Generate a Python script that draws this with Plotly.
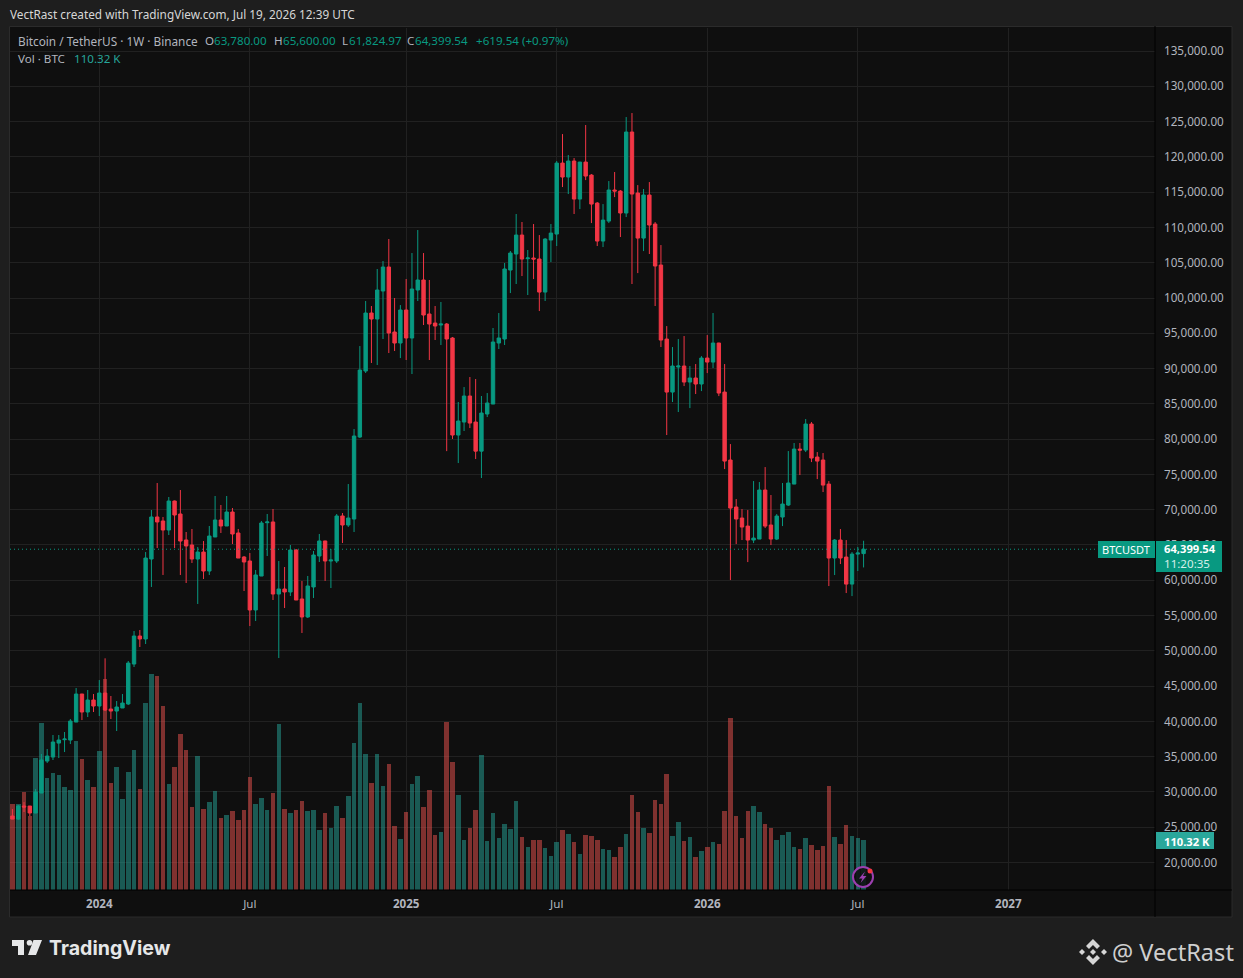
import pandas as pd
import plotly.graph_objects as go

W, H = 1243, 978
# pane edges in page pixels
PANE_L, PANE_R, PANE_T, PANE_B = 10, 1155, 28, 890

UP = "#089981"
DOWN = "#f23645"
VOL_UP = "rgba(38,166,154,0.5)"
VOL_DOWN = "rgba(239,83,80,0.5)"
TEXT = "#b2b5be"
FONT = "Noto Sans"

# weekly candles, prices in thousands of USDT
first_week = "2023-09-18"
opens = [26.59,26.16,28.01,28.01,27.02,29.85,34.38,34.95,36.93,37.41,
37.36,39.91,43.88,41.33,43.03,42.18,44.02,41.75,41.47,41.90,
42.47,48.13,52.10,51.68,63.01,68.97,68.40,67.12,71.23,69.39,
65.71,65.00,63.01,64.00,61.31,66.13,68.54,67.69,69.67,66.70,
63.30,62.73,55.79,60.60,68.16,68.26,58.05,58.76,58.34,64.29,
57.35,54.80,59.05,63.44,65.57,62.73,62.73,69.11,67.83,68.68,
80.30,89.65,97.87,97.02,100.99,104.39,95.18,93.62,98.30,94.33,
101.13,102.55,97.73,96.45,96.17,96.31,94.33,80.58,82.42,86.11,
82.42,78.30,83.56,84.97,93.62,94.19,103.96,106.23,108.92,105.57,
105.66,105.52,100.84,108.21,109.06,119.12,117.14,119.41,114.02,119.26,
117.42,113.45,108.07,110.90,115.30,115.15,112.04,123.52,114.87,108.49,
114.59,110.48,104.67,94.18,86.67,90.22,90.36,88.09,88.66,87.81,
91.49,90.92,93.62,86.67,77.04,70.38,68.82,67.68,65.70,65.84,
72.79,67.83,65.84,68.96,70.66,73.63,78.59,78.45,82.14,77.46,
77.04,73.63,63.15,65.70,63.29,59.46,63.71,63.78]
highs = [27.58,28.15,28.57,28.01,30.42,35.38,36.09,38.07,38.07,38.50,
40.34,44.73,43.90,44.45,43.88,45.86,48.94,43.60,42.89,43.88,
48.56,52.81,52.95,64.00,69.96,73.78,68.97,71.80,71.30,72.79,
66.84,67.27,64.71,65.56,67.69,71.94,70.67,71.94,70.24,67.27,
63.44,63.86,61.46,68.40,69.39,70.10,62.73,61.88,65.00,64.43,
59.90,60.61,64.15,66.56,65.60,64.43,69.39,69.53,73.64,81.43,
93.19,99.57,98.86,104.11,105.24,108.36,100.00,99.00,102.69,106.37,
109.63,106.37,102.55,98.86,99.43,96.45,94.47,85.26,87.38,88.80,
88.52,86.11,86.53,95.75,97.87,104.96,106.66,111.90,110.77,106.80,
110.48,108.92,108.49,110.48,119.41,123.23,120.26,119.83,119.30,124.51,
117.56,113.60,113.31,116.57,117.85,115.30,125.64,126.21,116.00,115.44,
116.43,110.76,107.50,96.02,93.05,94.18,94.61,90.36,90.64,91.77,
94.75,97.87,93.65,90.64,79.30,71.51,70.09,69.95,74.06,73.92,
76.04,72.08,69.38,73.78,78.31,79.45,79.45,82.85,82.42,78.17,
78.03,74.06,65.84,67.26,65.70,64.00,64.71,65.60]
lows = [26.16,26.02,27.16,26.59,27.00,29.85,34.10,34.53,34.81,35.66,
36.79,39.91,40.19,40.62,41.33,40.76,41.47,40.34,38.64,41.90,
42.32,47.71,50.54,50.97,59.05,64.57,60.75,66.41,64.57,60.75,
59.61,62.45,56.64,60.18,60.75,66.13,66.70,67.69,65.14,63.15,
58.48,53.52,54.23,60.60,63.44,57.20,48.98,56.07,57.77,57.20,
52.53,54.65,57.49,62.59,59.90,58.90,62.45,65.28,67.55,66.84,
80.16,89.37,90.79,90.50,94.19,92.20,92.49,91.49,91.21,89.23,
99.57,96.17,91.21,94.05,93.34,78.30,80.02,76.61,81.15,81.57,
77.18,74.49,83.13,84.97,92.77,93.34,100.70,101.98,103.11,100.42,
102.68,98.15,99.57,105.09,107.36,115.72,114.73,111.90,112.60,116.71,
110.62,107.36,107.22,110.62,114.30,108.64,111.47,101.98,103.53,106.65,
106.23,98.86,93.05,80.58,85.26,83.84,87.52,84.40,86.39,86.81,
89.36,90.07,86.10,75.76,60.03,65.13,65.70,62.58,65.27,65.84,
67.40,64.99,65.70,67.68,70.52,73.63,74.91,78.17,76.75,74.34,
72.50,59.18,60.74,62.30,58.19,57.76,61.31,61.82]
closes = [26.16,28.01,27.87,27.02,29.99,34.53,35.09,37.08,37.36,37.50,
40.05,43.88,41.33,43.03,42.18,44.02,41.61,41.47,42.04,42.60,
48.27,52.10,51.68,63.15,68.97,68.26,67.12,71.23,69.25,65.56,
64.86,63.01,64.00,61.31,66.27,68.54,67.69,69.67,66.56,63.15,
62.59,55.79,60.75,68.12,68.26,58.05,58.76,58.34,64.29,57.20,
54.80,59.19,63.58,65.57,62.73,62.87,69.11,67.83,68.82,80.44,
89.79,97.87,97.02,101.13,104.39,95.04,93.62,98.30,94.33,101.27,
102.55,97.59,96.31,96.03,96.31,94.19,80.58,82.57,86.11,82.28,
78.30,83.70,85.12,93.76,94.33,104.11,106.37,108.92,105.52,105.67,
105.52,100.84,108.35,109.20,119.12,117.14,119.41,114.02,119.26,117.28,
113.31,108.07,111.04,115.30,115.15,112.04,123.52,114.73,108.49,114.59,
110.34,104.53,94.04,86.67,90.36,90.36,88.09,88.66,87.81,91.49,
90.92,93.62,86.53,76.89,70.23,68.68,67.54,65.70,65.98,72.79,
67.68,65.84,69.10,70.80,73.78,78.59,78.45,82.14,77.32,76.89,
73.49,63.15,65.70,63.15,59.46,63.71,63.86,64.39954]
# volume in thousands of BTC
volumes = [190,190,216,163,291,368,247,258,254,227,
221,329,289,243,227,307,466,236,271,201,
260,309,223,413,477,472,406,234,271,344,
309,183,296,179,194,218,159,165,174,154,
176,249,190,203,176,214,366,179,170,176,
196,174,176,132,170,137,185,159,207,324,
413,300,236,300,229,278,141,113,172,234,
252,183,221,121,128,371,282,210,110,137,
176,298,108,170,115,146,135,196,117,95,
110,110,93,75,106,132,124,106,79,121,
119,110,90,88,73,95,124,210,172,137,
126,199,190,256,119,150,108,117,73,86,
95,106,101,174,379,163,115,174,185,172,
146,137,110,121,128,95,90,115,99,88,
97,229,117,101,143,119,115,110.32]

tick_dates = ["2024-01-01", "2024-07-01", "2025-01-06", "2025-07-07", "2026-01-05", "2026-07-06", "2027-01-04"]
tick_text = ["<b>2024</b>", "Jul", "<b>2025</b>", "Jul", "<b>2026</b>", "Jul", "<b>2027</b>"]
last_price = 64399.54

weeks = pd.date_range(first_week, periods=len(closes), freq="7D")
week_ms = 7 * 86400000
px_per_week = 5.79
anchor = pd.Timestamp("2024-01-01")  # sits at page x=99.3
x_start = anchor - pd.Timedelta(weeks=(99.3 - PANE_L) / px_per_week)
x_end = anchor + pd.Timedelta(weeks=(PANE_R - 99.3) / px_per_week)


def k(vals):
    return [v * 1000 for v in vals]


# page pixels -> paper coords
def px(x):
    return (x - PANE_L) / (PANE_R - PANE_L)


def py(y):
    return (PANE_B - y) / (PANE_B - PANE_T)


def poly(points):
    return "M" + " L".join(f"{px(x):.5f},{py(y):.5f}" for x, y in points) + " Z"


def label(x, y, text, color=TEXT, size=11.6, anchor_x="left", font=FONT):
    return dict(xref="paper", yref="paper", x=px(x), y=py(y), text=text, showarrow=False,
                xanchor=anchor_x, yanchor="middle", xshift=0, borderpad=0, borderwidth=0,
                font=dict(family=font, size=size, color=color))


def rect(x0, y0, x1, y1, fill, line=None, layer="above"):
    return dict(type="rect", xref="paper", yref="paper", x0=px(x0), x1=px(x1), y0=py(y0), y1=py(y1),
                fillcolor=fill, line=dict(width=1 if line else 0, color=line or fill), layer=layer)


def path(points, fill):
    return dict(type="path", xref="paper", yref="paper", path=poly(points), fillcolor=fill,
                line=dict(width=0), layer="above")


vol_colors = [VOL_UP if c >= o else VOL_DOWN for o, c in zip(opens, closes)]

fig = go.Figure()
fig.add_trace(go.Bar(x=weeks, y=k(volumes), width=week_ms * 0.78, marker=dict(color=vol_colors, line=dict(width=0)),
                     yaxis="y", showlegend=False, name="Vol"))
fig.add_trace(go.Candlestick(x=weeks, open=k(opens), high=k(highs), low=k(lows), close=k(closes), yaxis="y2",
                             increasing=dict(line=dict(color=UP, width=1), fillcolor=UP),
                             decreasing=dict(line=dict(color=DOWN, width=1), fillcolor=DOWN),
                             whiskerwidth=0, showlegend=False, name="BTCUSDT"))

shapes = [
    # frame and scale backgrounds
    rect(9.5, 26.5, 1232, 917, "#0f0f0f", "#2b2b2b", layer="below"),
    # last price dots
    dict(type="line", xref="paper", yref="y2", x0=0, x1=px(1098), y0=last_price, y1=last_price,
         line=dict(color=UP, width=1, dash="1px,3px"), layer="above"),
    # scale separators
    dict(type="line", xref="paper", yref="paper", x0=1, x1=1, y0=py(917), y1=py(26), line=dict(color="#000000", width=1), layer="above"),
    dict(type="line", xref="paper", yref="paper", x0=px(10), x1=px(1232), y0=0, y1=0, line=dict(color="#000000", width=1), layer="above"),
    # price tags
    rect(1098, 541, 1155, 558, UP),
    rect(1156, 541, 1222, 572, UP),
    rect(1156, 832, 1214, 849, "#2aa79b"),
    # flash icon
    dict(type="circle", xref="paper", yref="paper", x0=px(853), x1=px(873), y0=py(867), y1=py(887),
         fillcolor="rgba(15,15,15,0.85)", line=dict(color="#9c3fb0", width=2), layer="above"),
    path([(865, 871.5), (859, 878.5), (862.5, 878.5), (860.5, 883), (866.5, 876), (863, 876)], "#9c3fb0"),
    dict(type="circle", xref="paper", yref="paper", x0=px(867.5), x1=px(872.5), y0=py(868.5), y1=py(873.5),
         fillcolor=DOWN, line=dict(width=0), layer="above"),
    # TradingView mark
    path([(12, 940), (24, 940), (24, 955), (18, 955), (18, 946), (12, 946)], "#e6e7e8"),
    dict(type="circle", xref="paper", yref="paper", x0=px(26.7), x1=px(32.3), y0=py(940), y1=py(945.6),
         fillcolor="#e6e7e8", line=dict(width=0), layer="above"),
    path([(33.5, 940), (42, 940), (36, 955), (28, 955)], "#e6e7e8"),
    # exchange mark next to the handle
    path([(1093, 939), (1100, 946), (1097, 949), (1093, 945), (1089, 949), (1086, 946)], "#d6d6d6"),
    path([(1093, 965), (1100, 958), (1097, 955), (1093, 959), (1089, 955), (1086, 958)], "#d6d6d6"),
    path([(1093, 949), (1096, 952), (1093, 955), (1090, 952)], "#d6d6d6"),
    path([(1082, 949), (1085, 952), (1082, 955), (1079, 952)], "#d6d6d6"),
    path([(1104, 949), (1107, 952), (1104, 955), (1101, 952)], "#d6d6d6"),
]

annotations = [
    label(10, 14, "VectRast created with TradingView.com, Jul 19, 2026 12:39 UTC", "#d6d6d6", size=11.8),
    label(18, 41, "Bitcoin / TetherUS · 1W · Binance", size=11.8),
    label(205, 41, "O"), label(214, 41, "63,780.00", UP),
    label(274, 41, "H"), label(283, 41, "65,600.00", UP),
    label(342, 41, "L"), label(349, 41, "61,824.97", UP),
    label(407, 41, "C"), label(415, 41, "64,399.54", UP),
    label(476, 41, "+619.54 (+0.97%)", UP),
    label(18, 58, "Vol · BTC"), label(74, 58, "110.32 K", "#26a69a"),
    label(1102, 549.5, "BTCUSDT", "#ffffff", size=11),
    label(1164, 548.5, "<b>64,399.54</b>", "#ffffff", size=11.2),
    label(1164, 563, "11:20:35", "#d5efe9", size=11.6),
    label(1164, 841, "<b>110.32 K</b>", "#ffffff", size=11.2),
    label(49, 948, "<b>TradingView</b>", "#e6e7e8", size=19.6, font="Inter"),
    label(1112, 952, "@ VectRast", "#cfcfcf", size=23.6),
]

fig.update_layout(
    width=W, height=H, autosize=False,
    margin=dict(l=PANE_L, r=W - PANE_R, t=PANE_T, b=H - PANE_B, pad=0),
    paper_bgcolor="#1e1e1e", plot_bgcolor="#0f0f0f",
    font=dict(family=FONT, size=12, color=TEXT),
    showlegend=False, bargap=0, boxgap=0.16,
    hovermode=False,
    xaxis=dict(type="date", range=[x_start, x_end], rangeslider=dict(visible=False),
               tickmode="array", tickvals=tick_dates, ticktext=tick_text, ticks="",
               showgrid=True, gridcolor="#212121", gridwidth=1, showline=False, zeroline=False,
               tickfont=dict(family=FONT, size=11.6, color=TEXT), ticklabelstandoff=5),
    yaxis=dict(range=[0, 1902000], showgrid=False, showticklabels=False, zeroline=False, showline=False, ticks=""),
    yaxis2=dict(overlaying="y", side="right", anchor="x", range=[16110, 138260], tick0=0, dtick=5000,
                tickformat=",.2f", ticks="", showgrid=True, gridcolor="#212121", gridwidth=1, zeroline=False,
                showline=False, tickfont=dict(family=FONT, size=11.7, color=TEXT), ticklabelstandoff=8),
    shapes=shapes, annotations=annotations,
)

fig.write_html("out.html", config={"displayModeBar": False}, post_script="document.body.style.margin='0';")
